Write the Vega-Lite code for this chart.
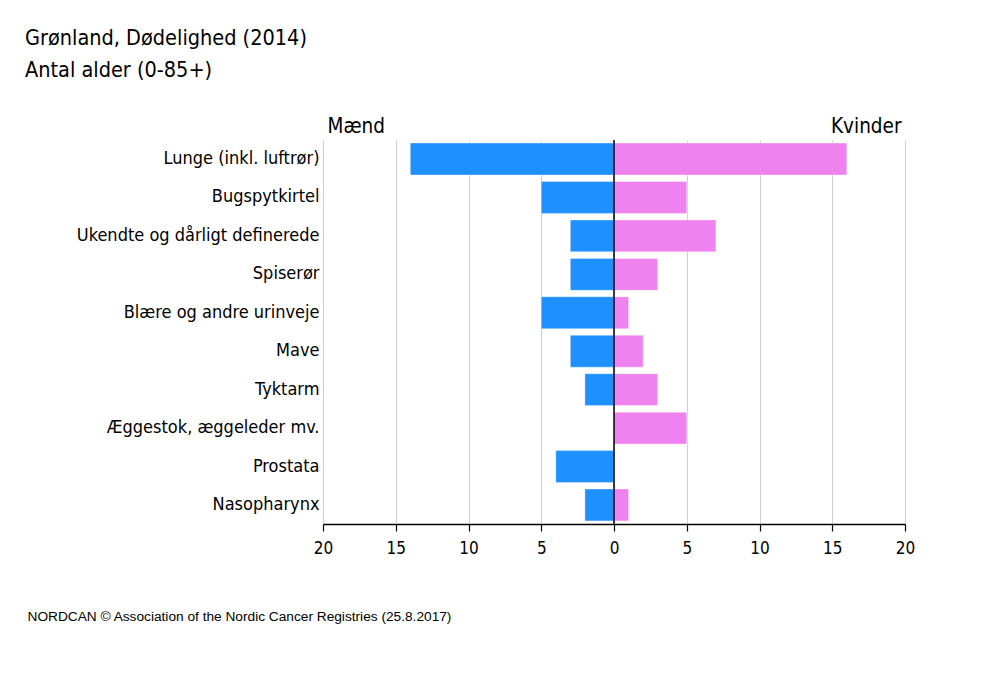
{
  "$schema": "https://vega.github.io/schema/vega-lite/v6.json",
  "width": 582,
  "height": 384,
  "autosize": {"type": "none"},
  "padding": {"left": 323, "top": 140, "right": 103, "bottom": 169},
  "background": "white",
  "title": {
    "text": ["Grønland, Dødelighed (2014)", "Antal alder (0-85+)"],
    "anchor": "start",
    "frame": "group",
    "dx": -298,
    "dy": 12,
    "font": "DejaVu Sans Condensed",
    "fontSize": 21.5,
    "fontWeight": "normal",
    "color": "#000000",
    "lineHeight": 32,
    "baseline": "alphabetic",
    "offset": 30
  },
  "config": {
    "view": {"stroke": null},
    "font": "DejaVu Sans Condensed"
  },
  "data": {
    "values": [
      {"kategori": "Lunge (inkl. luftrør)", "køn": "Mænd", "antal": -14},
      {"kategori": "Lunge (inkl. luftrør)", "køn": "Kvinder", "antal": 16},
      {"kategori": "Bugspytkirtel", "køn": "Mænd", "antal": -5},
      {"kategori": "Bugspytkirtel", "køn": "Kvinder", "antal": 5},
      {"kategori": "Ukendte og dårligt definerede", "køn": "Mænd", "antal": -3},
      {"kategori": "Ukendte og dårligt definerede", "køn": "Kvinder", "antal": 7},
      {"kategori": "Spiserør", "køn": "Mænd", "antal": -3},
      {"kategori": "Spiserør", "køn": "Kvinder", "antal": 3},
      {"kategori": "Blære og andre urinveje", "køn": "Mænd", "antal": -5},
      {"kategori": "Blære og andre urinveje", "køn": "Kvinder", "antal": 1},
      {"kategori": "Mave", "køn": "Mænd", "antal": -3},
      {"kategori": "Mave", "køn": "Kvinder", "antal": 2},
      {"kategori": "Tyktarm", "køn": "Mænd", "antal": -2},
      {"kategori": "Tyktarm", "køn": "Kvinder", "antal": 3},
      {"kategori": "Æggestok, æggeleder mv.", "køn": "Mænd", "antal": 0},
      {"kategori": "Æggestok, æggeleder mv.", "køn": "Kvinder", "antal": 5},
      {"kategori": "Prostata", "køn": "Mænd", "antal": -4},
      {"kategori": "Prostata", "køn": "Kvinder", "antal": 0},
      {"kategori": "Nasopharynx", "køn": "Mænd", "antal": -2},
      {"kategori": "Nasopharynx", "køn": "Kvinder", "antal": 1}
    ]
  },
  "layer": [
    {
      "mark": {"type": "bar", "stroke": "#ffffff", "strokeOpacity": 0.35, "strokeWidth": 1},
      "encoding": {
        "y": {
          "field": "kategori",
          "type": "nominal",
          "sort": null,
          "scale": {"paddingInner": 0.17, "paddingOuter": 0.08},
          "axis": {
            "title": null,
            "domain": false,
            "ticks": false,
            "labelPadding": 4,
            "labelFontSize": 18,
            "labelColor": "#000000",
            "labelLimit": 400
          }
        },
        "x": {
          "field": "antal",
          "type": "quantitative",
          "scale": {"domain": [-20, 20], "nice": false, "zero": false},
          "axis": {
            "orient": "bottom",
            "values": [-20, -15, -10, -5, 0, 5, 10, 15, 20],
            "labelExpr": "'' + abs(datum.value)",
            "grid": true,
            "gridColor": "#d0d0d0",
            "gridWidth": 1,
            "domainColor": "#000000",
            "domainWidth": 1.5,
            "tickColor": "#000000",
            "tickSize": 7,
            "tickWidth": 1.2,
            "labelFontSize": 17,
            "labelColor": "#000000",
            "labelPadding": 9,
            "labelFlush": false,
            "title": "NORDCAN © Association of the Nordic Cancer Registries (25.8.2017)",
            "titleFont": "Liberation Sans",
            "titleFontSize": 13.7,
            "titleFontWeight": "normal",
            "titleColor": "#000000",
            "titleAlign": "left",
            "titleAnchor": "start",
            "titleBaseline": "middle",
            "titleX": -296,
            "titleY": 92
          }
        },
        "color": {
          "field": "køn",
          "type": "nominal",
          "scale": {"domain": ["Mænd", "Kvinder"], "range": ["#1E90FF", "#EE82EE"]},
          "legend": null
        }
      }
    },
    {
      "data": {"values": [{"v": -20, "navn": "Mænd"}, {"v": 20, "navn": "Kvinder"}]},
      "mark": {"type": "point", "opacity": 0},
      "encoding": {
        "x": {
          "field": "v",
          "type": "quantitative",
          "axis": {
            "orient": "top",
            "values": [-20, 20],
            "labelExpr": "datum.value < 0 ? 'Mænd' : 'Kvinder'",
            "labelFlush": true,
            "labelFlushOffset": -4,
            "labelFontSize": 20.5,
            "labelColor": "#000000",
            "labelPadding": 4,
            "ticks": false,
            "domain": false,
            "grid": false,
            "title": null
          }
        }
      }
    },
    {
      "data": {"values": [{"nul": 0}]},
      "mark": {"type": "rule", "color": "#000000", "strokeWidth": 1.5},
      "encoding": {
        "x": {"field": "nul", "type": "quantitative", "axis": null}
      }
    }
  ],
  "resolve": {"axis": {"x": "independent"}}
}
